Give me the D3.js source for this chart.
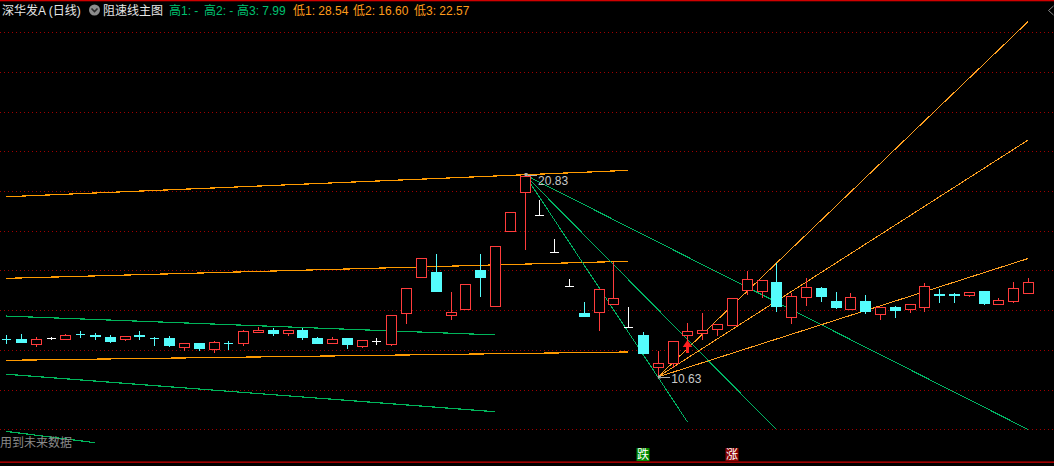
<!DOCTYPE html>
<html><head><meta charset="utf-8">
<script src="https://cdn.jsdelivr.net/npm/d3@7/dist/d3.min.js"></script>
<style>
html,body{margin:0;padding:0;background:#000;overflow:hidden;}
svg{display:block;}
text{font-family:"Liberation Sans","Noto Sans CJK SC",sans-serif;}
</style></head><body>
<svg id="c" width="1054" height="466"></svg>
<script>
// ---------------- DATA ----------------
const stockName = "深华发A (日线)";
const indicatorName = "阻速线主图";
const open  = [12.54,12.54,12.31,12.59,12.56,12.81,12.74,12.64,12.56,12.74,
               12.60,12.59,12.16,12.33,12.06,12.34,12.33,12.91,13.00,12.86,
               13.00,12.59,12.36,12.59,12.21,12.46,12.31,13.84,15.65,15.92,
               13.77,14.04,16.02,14.19,18.00,19.93,18.78,16.91,15.20,13.85,
               13.89,14.29,13.13,12.75,11.12,11.32,12.73,12.86,13.06,13.26,
               15.01,14.98,15.40,13.67,14.68,15.10,14.48,14.07,14.46,13.79,
               14.16,14.04,14.14,14.79,14.79,14.75,14.95,14.29,14.47,14.88];
const high  = [12.75,12.80,12.64,12.66,12.78,12.95,12.85,12.75,12.68,12.95,
               12.64,12.70,12.33,12.33,12.44,12.44,12.98,13.16,13.10,13.00,
               13.10,12.64,12.64,12.59,12.49,12.59,13.74,15.10,16.61,16.83,
               14.91,15.30,16.83,17.21,18.93,20.83,19.53,17.58,15.57,14.41,
               15.06,16.44,14.14,12.90,11.95,12.44,13.35,13.85,13.30,14.59,
               15.95,15.50,16.36,14.88,15.60,15.15,14.91,14.85,14.76,14.14,
               14.21,14.29,15.35,15.05,14.86,14.90,14.95,14.59,15.42,15.62];
const low   = [12.36,12.40,12.21,12.53,12.56,12.66,12.56,12.39,12.51,12.56,
               12.26,12.21,12.01,11.98,11.90,12.06,12.26,12.91,12.75,12.75,
               12.54,12.34,12.36,12.11,12.16,12.29,12.26,13.34,15.65,14.98,
               13.57,14.04,14.73,14.19,17.97,17.09,18.78,16.91,15.20,13.72,
               13.01,14.29,13.13,11.85,10.63,11.13,12.49,12.56,12.75,13.26,
               14.83,14.68,13.95,13.34,14.24,14.47,14.12,14.07,13.87,13.54,
               13.67,13.92,13.97,14.42,14.42,14.70,14.32,14.29,14.42,14.88];
const close = [12.52,12.41,12.54,12.59,12.73,12.79,12.72,12.46,12.68,12.72,
               12.58,12.26,12.33,12.11,12.39,12.32,12.93,13.00,12.85,13.00,
               12.64,12.34,12.54,12.31,12.49,12.46,13.74,15.10,16.61,14.98,
               13.90,15.30,15.68,17.21,18.93,20.78,18.78,16.91,15.20,13.72,
               15.06,14.61,13.13,11.85,11.32,12.44,12.95,13.00,13.30,14.59,
               15.55,15.50,14.22,14.73,15.18,14.73,14.17,14.64,13.97,14.14,
               14.02,14.29,15.20,14.77,14.77,14.90,14.37,14.49,15.10,15.40];
const gridPrices = [8,10,12,14,16,18,20,22,24,26,28];

// stepped resistance lines on the left: [startIndex, endIndex, startPrice, endPrice]
const orangeBands = [[0,42,19.71,21.04],[0,42,15.60,16.46],[0,42,11.47,11.89]];
const greenBands  = [[0,33,13.70,12.75],[0,33,10.77,8.88],[0,6,7.89,7.32]];

// speed-resistance fans
const peakIdx = 35, peakPrice = 20.83;
const troughIdx = 44, troughPrice = 10.63;
const riseRefIdx = 52;
const fallFractions = [1, 2/3, 1/3];    // 高? lines (green)
const fallEnds      = [46, 52, 69];
const riseFractions = [1, 1/3, 2/3];    // 低1, 低2, 低3 (orange)
const riseEnds      = [69, 69, 69];
const highLabels = ["高1","高2","高3"];
const lowLabels  = ["低1","低2","低3"];
const signalDown = {i:43, t:"跌"};
const signalUp   = {i:49, t:"涨"};
const buyArrowIdx = 46;
const footNote = "用到未来数据";

// ---------------- CHART ----------------
const W = 1054, H = 466, N = open.length;
const RED = "#ff3c3c", CYAN = "#54fcfc", WHITE = "#ffffff";
const GREEN_TXT = "#00c070", ORANGE_TXT = "#ff9c1a";
const svg = d3.select("#c");
svg.append("rect").attr("width",W).attr("height",H).attr("fill","#000");

const x = d3.scaleLinear().domain([0, N-1]).range([6.2, 1028.1]);
const y = d3.scaleLinear().domain([8, 28]).range([429.2, 32.2]);

// frame lines
svg.append("rect").attr("x",0).attr("y",0).attr("width",W).attr("height",1.3).attr("fill","#d00000");
svg.append("rect").attr("x",0).attr("y",461.5).attr("width",W).attr("height",1.3).attr("fill","#c80000");

// grid (dotted)
svg.append("g").selectAll("line").data(gridPrices).join("line")
  .attr("x1",0).attr("x2",W)
  .attr("y1",d=>Math.round(y(d))+0.5).attr("y2",d=>Math.round(y(d))+0.5)
  .attr("stroke","#a00000").attr("stroke-width",1).attr("stroke-dasharray","1,3")
  .attr("shape-rendering","crispEdges");

// left resistance lines
const lineG = svg.append("g").attr("shape-rendering","crispEdges").attr("fill","none");
lineG.selectAll(".ob").data(orangeBands).join("line").attr("class","ob")
  .attr("x1",d=>x(d[0])).attr("x2",d=>x(d[1])).attr("y1",d=>y(d[2])).attr("y2",d=>y(d[3]))
  .attr("stroke","#ff9a00").attr("stroke-width",1.2);
lineG.selectAll(".gb").data(greenBands).join("line").attr("class","gb")
  .attr("x1",d=>x(d[0])).attr("x2",d=>x(d[1])).attr("y1",d=>y(d[2])).attr("y2",d=>y(d[3]))
  .attr("stroke","#00b45a").attr("stroke-width",1.2);

// fans
const fallSlope = (peakPrice - troughPrice)/(troughIdx - peakIdx);
const riseSlope = (high[riseRefIdx] - troughPrice)/(riseRefIdx - troughIdx);
const fallLines = fallFractions.map((f,k)=>({i0:peakIdx,p0:peakPrice,i1:fallEnds[k],p1:peakPrice - f*fallSlope*(fallEnds[k]-peakIdx)}));
const riseLines = riseFractions.map((f,k)=>({i0:troughIdx,p0:troughPrice,i1:riseEnds[k],p1:troughPrice + f*riseSlope*(riseEnds[k]-troughIdx)}));
lineG.selectAll(".fl").data(fallLines).join("line").attr("class","fl")
  .attr("x1",d=>x(d.i0)).attr("y1",d=>y(d.p0)).attr("x2",d=>x(d.i1)).attr("y2",d=>y(d.p1))
  .attr("stroke","#00b464").attr("stroke-width",1);
lineG.selectAll(".rl").data(riseLines).join("line").attr("class","rl")
  .attr("x1",d=>x(d.i0)).attr("y1",d=>y(d.p0)).attr("x2",d=>x(d.i1)).attr("y2",d=>y(d.p1))
  .attr("stroke","#ffa020").attr("stroke-width",1);

// candles
const cg = svg.append("g").attr("shape-rendering","crispEdges");
d3.range(N).forEach(i=>{
  const cx = Math.round(x(i)) + 0.5;
  const o=open[i], c=close[i], h=high[i], l=low[i];
  const col = c>o ? RED : (c<o ? CYAN : WHITE);
  const yT = Math.round(y(Math.max(o,c))), yB = Math.round(y(Math.min(o,c)));
  const yH = Math.round(y(h)), yL = Math.round(y(l));
  if (yB - yT < 1 || c===o) {
    cg.append("line").attr("x1",cx).attr("x2",cx).attr("y1",yH).attr("y2",yL+1).attr("stroke",col);
    cg.append("line").attr("x1",cx-4.5).attr("x2",cx+4.5).attr("y1",yT+0.5).attr("y2",yT+0.5).attr("stroke",col);
  } else if (c>o) {
    if (yH < yT) cg.append("line").attr("x1",cx).attr("x2",cx).attr("y1",yH).attr("y2",yT).attr("stroke",col);
    if (yL > yB) cg.append("line").attr("x1",cx).attr("x2",cx).attr("y1",yB).attr("y2",yL+1).attr("stroke",col);
    cg.append("rect").attr("x",cx-5).attr("y",yT+0.5).attr("width",10).attr("height",Math.max(1,yB-yT))
      .attr("fill","#000").attr("stroke",col).attr("stroke-width",1);
  } else {
    cg.append("line").attr("x1",cx).attr("x2",cx).attr("y1",yH).attr("y2",yL+1).attr("stroke",col);
    cg.append("rect").attr("x",cx-5.5).attr("y",yT).attr("width",11).attr("height",Math.max(1,yB-yT+1)).attr("fill",col);
  }
});

// peak / trough labels
function markLabel(i, p, txt, dy){
  const px = x(i), py = y(p);
  svg.append("rect").attr("x",px).attr("y",py-1.5).attr("width",3).attr("height",3).attr("fill","#b0b0b0");
  svg.append("line").attr("x1",px+3).attr("x2",px+12).attr("y1",py+0.5).attr("y2",py+0.5)
    .attr("stroke","#b0b0b0").attr("shape-rendering","crispEdges");
  svg.append("text").attr("x",px+13.5).attr("y",py+dy).attr("font-size",12).attr("fill","#c8c8c8").text(txt);
}
markLabel(peakIdx, peakPrice, peakPrice.toFixed(2), 10.5);
markLabel(troughIdx, troughPrice, troughPrice.toFixed(2), 6.5);

// buy arrow
{
  const ax = Math.round(x(buyArrowIdx)) + 0.5, at = y(low[buyArrowIdx]);
  svg.append("path").attr("fill","#ff2020")
    .attr("d",`M${ax},${at} L${ax+4.8},${at+7} L${ax+1.5},${at+7} L${ax+1.5},${at+13} L${ax-1.5},${at+13} L${ax-1.5},${at+7} L${ax-4.8},${at+7} Z`);
}

// signal boxes
[[signalDown,"#008a00"],[signalUp,"#8a0000"]].forEach(([s,bg])=>{
  const sx = x(s.i);
  svg.append("rect").attr("x",Math.round(sx)-6.5).attr("y",448).attr("width",13).attr("height",13).attr("fill",bg);
  svg.append("text").attr("x",Math.round(sx)).attr("y",459).attr("text-anchor","middle")
    .attr("font-size",12).attr("fill","#fff").text(s.t);
});

// foot note
svg.append("text").attr("x",0).attr("y",446.5).attr("font-size",12).attr("fill","#8a8a8a").text(footNote);

// title
const tg = svg.append("g").attr("font-size",12);
tg.append("text").attr("x",2).attr("y",15).attr("fill","#e6e6e6").text(stockName);
tg.append("circle").attr("cx",94.5).attr("cy",10).attr("r",5.5).attr("fill","#8c8c8c");
tg.append("path").attr("d","M91.5,8.5 L94.5,11.5 L97.5,8.5").attr("fill","none").attr("stroke","#2a2a2a").attr("stroke-width",1.6);
tg.append("text").attr("x",103).attr("y",15).attr("fill","#e6e6e6").text(indicatorName);
const highVals = fallLines.map(d=> d.i1 >= N-1 ? d.p1.toFixed(2) : "-");
const lowVals  = riseLines.map(d=> d.p1.toFixed(2));
const highX = [169,204,237], lowX = [293,353,414];
highLabels.forEach((lab,k)=>tg.append("text").attr("x",highX[k]).attr("y",15).attr("fill",GREEN_TXT).text(`${lab}: ${highVals[k]}`));
lowLabels.forEach((lab,k)=>tg.append("text").attr("x",lowX[k]).attr("y",15).attr("fill",ORANGE_TXT).text(`${lab}: ${lowVals[k]}`));

// corner chevron
svg.append("path").attr("d","M1053.5,6 L1048.5,10.5 L1053.5,15").attr("fill","none").attr("stroke","#8a8a8a");
</script>
</body></html>
